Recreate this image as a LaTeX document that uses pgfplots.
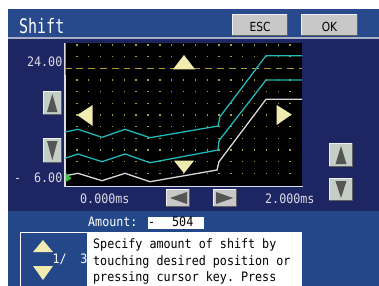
\documentclass[border=0pt]{standalone}
\usepackage{pgfplots}
\pgfplotsset{compat=1.18}
\usepackage{fontspec}
\setmonofont{DejaVu Sans Mono}
\newfontfamily\uisans{DejaVu Sans}
\definecolor{navy}{HTML}{1E2563}
\definecolor{hdr}{HTML}{284A8C}
\definecolor{hdrline}{HTML}{A8B0C8}
\definecolor{lowblue}{HTML}{24478A}
\definecolor{dotc}{HTML}{A8A040}
\definecolor{cyantr}{HTML}{22B8B8}
\definecolor{whitetr}{HTML}{D8D8D8}
\definecolor{dashc}{HTML}{A89A30}
\definecolor{cursor}{HTML}{F0ECB0}
\definecolor{lbl}{HTML}{DCDCE4}
\definecolor{btngrey}{HTML}{C8C8C8}
\definecolor{btngreen}{HTML}{C4CEC4}
\definecolor{btnhi}{HTML}{F0F0F0}
\definecolor{btnsh}{HTML}{606060}
\definecolor{arrowc}{HTML}{555555}
\definecolor{marker}{HTML}{40C040}
\newcommand{\uibtn}[5]{%
  \fill[#5] (#1,#2) rectangle (#3,#4);
  \draw[btnhi,line width=1.2] (#1+0.6,#4) -- (#1+0.6,#2+0.6) -- (#3,#2+0.6);
  \draw[btnsh,line width=1.2] (#3-0.6,#2) -- (#3-0.6,#4-0.6) -- (#1,#4-0.6);}
\newcommand{\uifont}{\fontsize{13bp}{15bp}\ttfamily}
\begin{document}
\begin{tikzpicture}
\begin{scope}[x=1bp,y=-1bp]
\useasboundingbox (0,0) rectangle (379,286);
\fill[white] (0,0) rectangle (379,286);
\fill[navy] (8,9) rectangle (379,286);
\fill[hdr] (8,9) rectangle (379,37);
\fill[hdrline] (8,37) rectangle (379,39);
\fill[lowblue] (8,211) rectangle (379,286);
% plot area
\fill[black] (65,43) rectangle (302,186);
\foreach \i in {1,...,19}{\foreach \j in {0,...,11}{%
  \fill[dotc] ({65+11.85*\i-0.7},{45+11.667*\j-0.7}) rectangle ++(1.4,1.4);}}
\draw[lbl,line width=1.4] (65,43) -- (65,186.5) -- (303,186.5);
\draw[marker,line width=1.4] (65.5,43) -- (65.5,75);
% header
\node[anchor=base west,inner sep=0,text=white,xscale=0.75] at (19,33.3) {\fontsize{20bp}{22bp}\ttfamily Shift};
\uibtn{232}{14}{288}{36}{btngrey}
\uibtn{301}{14}{358}{36}{btngrey}
\node[inner sep=0,xscale=0.85] at (260,26.5) {\fontsize{12.5bp}{14bp}\uisans ESC};
\node[inner sep=0,xscale=0.85] at (329.5,26.5) {\fontsize{12.5bp}{14bp}\uisans OK};
% y labels
\node[anchor=base east,inner sep=0,text=lbl,xscale=0.9] at (62.5,66.7) {\uifont 24.00};
\node[anchor=base east,inner sep=0,text=lbl,xscale=0.9] at (62.5,182.7) {\uifont 6.00};
\node[anchor=base west,inner sep=0,text=lbl,xscale=0.9] at (14,182.7) {\uifont -};
% left buttons
\uibtn{43}{91}{62}{115}{btngreen}
\uibtn{43}{138}{62}{163}{btngreen}
\fill[arrowc] (47,112) -- (57.5,112) -- (52.3,94) -- cycle;
\fill[arrowc] (47,141) -- (57.5,141) -- (52.3,160) -- cycle;
% right buttons
\uibtn{329}{143}{353}{167}{btngreen}
\uibtn{329}{178}{353}{201}{btngreen}
\fill[arrowc] (335.5,164) -- (346.5,164) -- (341,146) -- cycle;
\fill[arrowc] (335.5,181) -- (346.5,181) -- (341,198) -- cycle;
% bottom arrow buttons
\uibtn{166}{189}{190}{207}{btngrey}
\uibtn{213}{189}{237}{207}{btngrey}
\fill[arrowc] (170,198) -- (187,192) -- (187,204) -- cycle;
\fill[arrowc] (216,192) -- (233,198) -- (216,204) -- cycle;
% x labels
\node[anchor=base west,inner sep=0,text=lbl,xscale=0.9] at (80,203.3) {\uifont 0.000ms};
\node[anchor=base west,inner sep=0,text=lbl,xscale=0.9] at (265,203.3) {\uifont 2.000ms};
% amount
\node[anchor=base west,inner sep=0,text=white,xscale=0.9] at (88,226.7) {\uifont Amount:};
\fill[white] (148,217) rectangle (204,228.5);
\node[anchor=base west,inner sep=0,text=black,xscale=0.9] at (148,226.7) {\uifont -};
\node[anchor=base west,inner sep=0,text=black,xscale=0.9] at (172,226.7) {\uifont 504};
% info box
\fill[lowblue] (20,232) rectangle (88,290);
\draw[white,line width=1.2] (20.6,290) -- (20.6,232.6) -- (88,232.6) -- (88,290);
\fill[white] (88,232) rectangle (302,290);
\fill[cursor] (43,240) -- (33,252) -- (53,252) -- cycle;
\fill[cursor] (33,266) -- (53,266) -- (43,280) -- cycle;
\node[anchor=base west,inner sep=0,text=white,xscale=0.9] at (52.5,263.3) {\uifont 1/};
\node[anchor=base east,inner sep=0,text=white,xscale=0.9] at (87.5,263.3) {\uifont 3};
\node[anchor=base west,inner sep=0,text=black,xscale=0.9] at (93,248) {\uifont Specify amount of shift by};
\node[anchor=base west,inner sep=0,text=black,xscale=0.9] at (93,265) {\uifont touching desired position or};
\node[anchor=base west,inner sep=0,text=black,xscale=0.9] at (93,281.5) {\uifont pressing cursor key. Press};
\end{scope}
\begin{axis}[at={(65bp,-186bp)}, anchor=south west, width=237bp, height=143bp,
  scale only axis, xmin=65, xmax=302, ymin=43, ymax=186, y dir=reverse,
  hide axis, clip=true]
\addplot[dashc, line width=1.2pt, dash pattern=on 6.7bp off 5bp] coordinates {(65,68.3) (302,68.3)};
\addplot[cyantr, line width=1.3pt] coordinates {(65,132) (78,129.3) (102,137.3) (125,129.3) (150,137.7) (218,126) (220,116.7) (266,55.7) (302,55.7)};
\addplot[cyantr, line width=1.3pt] coordinates {(65,158.3) (78,154) (102,161.7) (125,154) (150,162.7) (218,150) (219,140.7) (266,80) (302,80)};
\addplot[whitetr, line width=1.3pt] coordinates {(65,175.8) (78,173.3) (102,180.7) (125,173.3) (150,181.7) (217,170) (219,161.7) (266,99.3) (302,99.3)};
\end{axis}
\begin{scope}[x=1bp,y=-1bp]
\fill[cursor] (184,55) -- (173,69.3) -- (195,69.3) -- cycle;
\fill[cursor] (174,160.7) -- (194,160.7) -- (184,173.3) -- cycle;
\fill[cursor] (77.3,115) -- (92.7,105) -- (92.7,126) -- cycle;
\fill[cursor] (291.7,114.5) -- (276.7,105) -- (276.7,125) -- cycle;
\fill[marker] (65.5,172.5) -- (71.5,178.5) -- (65.5,182) -- cycle;
\end{scope}
\end{tikzpicture}
\end{document}
